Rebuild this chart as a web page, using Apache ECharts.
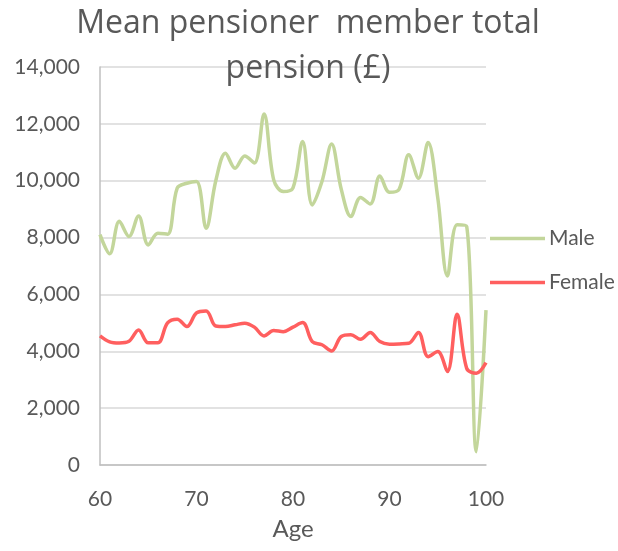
<!DOCTYPE html>
<html>
<head>
<meta charset="utf-8">
<script src="https://cdn.jsdelivr.net/npm/echarts@6/dist/echarts.min.js"></script>
<style>
html,body{margin:0;padding:0;background:#fff;}
#chart{width:618px;height:551px;}
</style>
</head>
<body>
<div id="chart"></div>
<script>
"use strict";

const ages = [60,61,62,63,64,65,66,67,68,69,70,71,72,73,74,75,76,77,78,79,80,
	81,82,83,84,85,86,87,88,89,90,91,92,93,94,95,96,97,98,99,100];
const male = [8100,7430,8570,8040,8760,7740,8150,8120,9740,9910,9970,8330,10000,10970,10440,10870,10620,12350,10030,9620,9750,
	11380,9150,9970,11290,9700,8740,9410,9180,10170,9590,9700,10910,10090,11340,9400,6650,8450,8390,470,5450];
const female = [4540,4330,4290,4350,4750,4300,4300,5000,5130,4870,5350,5420,4890,4870,4930,4990,4850,4540,4730,4690,4850,
	5010,4340,4230,4010,4520,4580,4420,4660,4340,4250,4260,4280,4660,3810,3990,3290,5300,3400,3230,3600];

const font = "Lato, 'Open Sans', sans-serif";
const grey = "#595959";
const myChart = echarts.init(document.getElementById("chart"));

function pairs(vals){
	return ages.map((a,i)=>[a,vals[i]]);
}

myChart.setOption({
	animation:false,
	title:{
		text:"Mean pensioner  member total\npension (£)",
		left:308, top:1, padding:0,
		textAlign:"center",
		textStyle:{fontFamily:"'Open Sans', sans-serif",fontSize:32,fontWeight:"normal",color:grey,lineHeight:45}
	},
	legend:{
		orient:"vertical",
		left:485, top:223,
		itemWidth:55, itemHeight:3.5, itemGap:23,
		icon:"rect",
		textStyle:{fontFamily:font,fontSize:21,color:grey,padding:[0,0,0,-1]},
		data:["Male","Female"]
	},
	grid:{left:100,right:132,top:67,bottom:86},
	xAxis:{
		type:"value",min:60,max:100,interval:10,
		name:"Age",nameLocation:"middle",nameGap:52,
		nameTextStyle:{fontFamily:font,fontSize:24,color:grey},
		axisLine:{show:true,lineStyle:{color:"#bfbfbf",width:1.5}},
		axisTick:{show:false},
		splitLine:{show:false},
		axisLabel:{fontFamily:font,fontSize:21,color:grey,margin:24}
	},
	yAxis:{
		type:"value",min:0,max:14000,interval:2000,
		axisLine:{show:true,lineStyle:{color:"#bfbfbf",width:1.5}},
		axisTick:{show:false},
		splitLine:{lineStyle:{color:"#d9d9d9",width:1.5}},
		axisLabel:{fontFamily:font,fontSize:21,color:grey,margin:20,
			formatter:(v)=>v.toLocaleString("en-GB")}
	},
	series:[
		{name:"Male",type:"line",data:pairs(male),smooth:0.35,symbol:"none",
			lineStyle:{color:"#c3d69b",width:3.5},itemStyle:{color:"#c3d69b"}},
		{name:"Female",type:"line",data:pairs(female),smooth:0.35,symbol:"none",
			lineStyle:{color:"#ff5f5f",width:3.5},itemStyle:{color:"#ff5f5f"}}
	]
});
</script>
</body>
</html>
